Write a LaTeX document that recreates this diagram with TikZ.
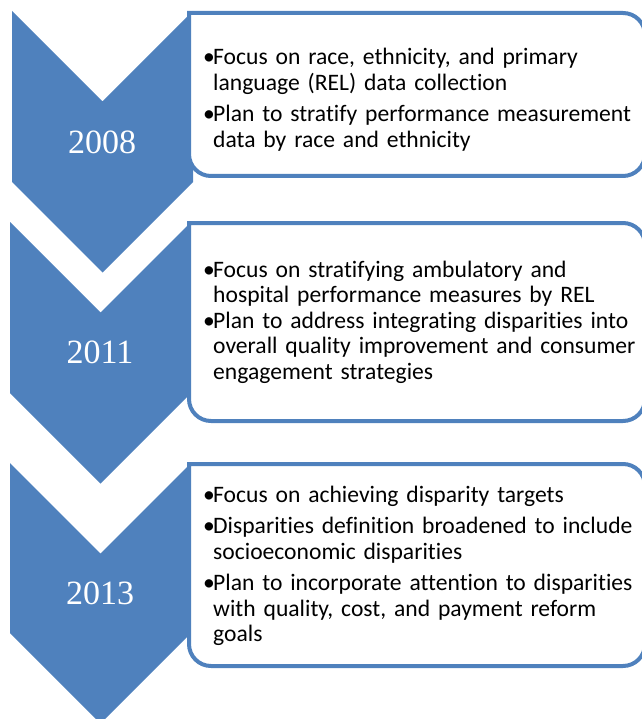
\documentclass[tikz,border=0pt]{standalone}
\usepackage{fontspec}
\setmainfont{Carlito}[Ligatures=NoCommon]
\newfontfamily\yearfont{Liberation Serif}
\definecolor{chevblue}{HTML}{4F81BD}

\newcommand{\itm}[1]{\hangindent=10pt\hangafter=1\noindent\makebox[10pt][l]{\textbullet}#1\par}

\begin{document}
\begin{tikzpicture}[x=1pt,y=-1pt,
		panel/.style={draw=chevblue, line width=4pt, fill=white},
		year/.style={text=white, font=\yearfont\fontsize{34}{34}\selectfont},
		items/.style={anchor=base west, text width=436pt, align=left, inner sep=0pt, font=\fontsize{23.6}{25.5}\selectfont}]
		\useasboundingbox (0,0) rectangle (641,719);

		%chevrons
		\foreach \x/\top/\bot in {12/11/182, 10/222/393, 10/463/633}{
			\fill[chevblue] (\x,\top) -- ++(90.5,90.5) -- ++(90.5,-90.5) -- (\x+181,\bot) -- ++(-90.5,90.5) -- ++(-90.5,-90.5) -- cycle;
		}

		%panels, round on the right only
		\foreach \top/\bot in {13/176, 223/421, 464/666}{
			\draw[panel] (189,\top) [rounded corners=22pt] -- (645,\top) -- (645,\bot) -- (189,\bot) [sharp corners] -- cycle;
		}

		%years
		\node[year] (y2008) at (102,142) {2008};
		\node[year] (y2011) at (100,352) {2011};
		\node[year] (y2013) at (100,593) {2013};

		%2008
		\node[items] (t2008) at (203,65) {\setlength{\parskip}{6pt}%
			\itm{Focus on race, ethnicity, and primary\newline language (REL) data collection}
			\itm{Plan to stratify performance measurement\newline data by race and ethnicity}};

		%2011
		\node[items] (t2011) at (203,277) {\setlength{\parskip}{0pt}%
			\itm{Focus on stratifying ambulatory and\newline hospital performance measures by REL}
			\itm{Plan to address integrating disparities into\newline overall quality improvement and consumer\newline engagement strategies}};

		%2013
		\node[items] (t2013) at (203,502) {\setlength{\parskip}{6pt}%
			\itm{Focus on achieving disparity targets}
			\itm{Disparities definition broadened to include\newline socioeconomic disparities}
			\itm{Plan to incorporate attention to disparities\newline with quality, cost, and payment reform\newline goals}};

	\end{tikzpicture}
\end{document}
